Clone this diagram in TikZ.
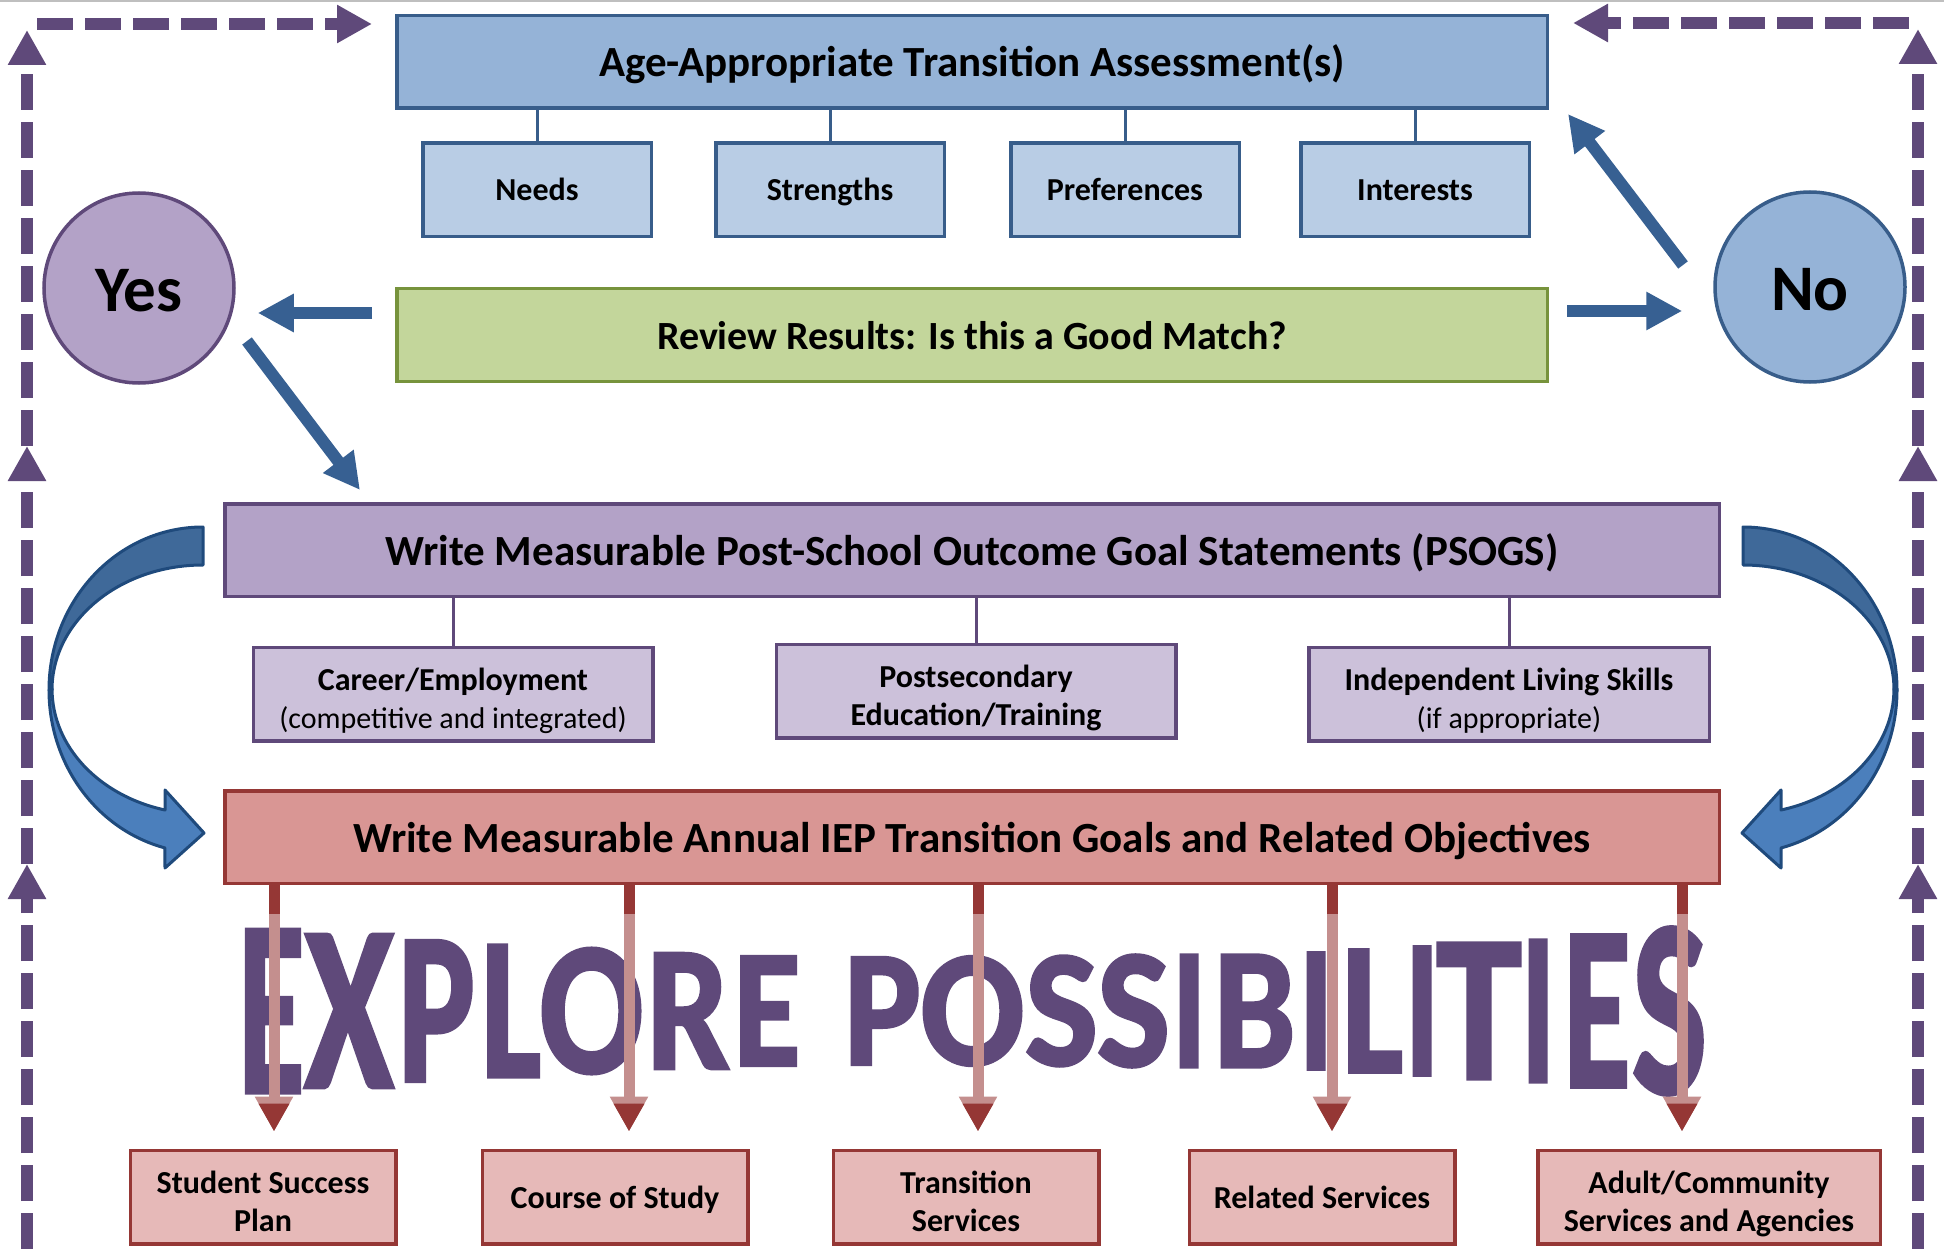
\documentclass[tikz,border=0pt]{standalone}
\usepackage{fontspec, graphicx}
\setmainfont{Carlito}
\newfontfamily\wordartfont{Carlito}[BoldFeatures={FakeBold=2}]
\usetikzlibrary{arrows.meta}

\definecolor{assessfill}{HTML}{95B3D7}
\definecolor{assesssubfill}{HTML}{B9CDE5}
\definecolor{assessdraw}{HTML}{385D8A}
\definecolor{reviewfill}{HTML}{C3D69B}
\definecolor{reviewdraw}{HTML}{77933C}
\definecolor{psogsfill}{HTML}{B3A2C7}
\definecolor{psogssubfill}{HTML}{CCC1DA}
\definecolor{psogsdraw}{HTML}{5F497A}
\definecolor{iepfill}{HTML}{D99694}
\definecolor{iepsubfill}{HTML}{E6B9B8}
\definecolor{iepdraw}{HTML}{953735}
\definecolor{ieppink}{HTML}{C48F8E}
\definecolor{arrowblue}{HTML}{376092}
\definecolor{bendbackfill}{HTML}{3F6999}
\definecolor{bendfrontfill}{HTML}{4B7FBC}
\definecolor{benddraw}{HTML}{1F4A7C}

\tikzset{
  box/.style={draw, line width=3.5pt, inner sep=0pt, align=center},
  mainbox/.style={box, minimum height=92.5pt, text height=41pt, text depth=11pt,
    font=\bfseries\fontsize{43}{50}\selectfont},
  subbox/.style={box, minimum height=93.5pt, text height=30pt, text depth=8pt,
    font=\bfseries\fontsize{32}{38}\selectfont},
  twoline/.style={text height=76pt},
  answer/.style={circle, draw, line width=3.5pt, minimum size=190pt, inner sep=0pt,
    text height=48pt, text depth=0pt, font=\bfseries\fontsize{65}{72}\selectfont},
  stem/.style={line width=3pt},
  blueline/.style={draw=arrowblue, line width=12pt, -{Triangle[length=36pt,width=36pt]}},
  loopline/.style={draw=psogsdraw, line width=12pt, dash pattern=on 36pt off 12pt,
    -{Triangle[length=35pt,width=36pt]}},
  downline/.style={draw=ieppink, line width=11pt, -{Triangle[length=35pt,width=36pt]}},
  downstub/.style={draw=iepdraw, line width=11pt},
  downhead/.style={draw=iepdraw, line width=11pt, -{Triangle[length=28pt,width=29pt]}},
  bigletter/.style={inner sep=0pt, text=psogsdraw, font=\wordartfont\bfseries\fontsize{100}{100}\selectfont},
  bendarrow/.pic={
    \filldraw[fill=bendbackfill, draw=benddraw, line width=3pt, line join=round]
      (0,-163) arc[start angle=90, end angle=180, x radius=154pt, y radius=163pt]
      -- (-151,0) arc[start angle=180, end angle=90, x radius=151pt, y radius=125pt] -- cycle;
    \filldraw[fill=bendfrontfill, draw=benddraw, line width=3pt, line join=round]
      (-154,0) arc[start angle=180, end angle=255.7, x radius=154pt, y radius=163pt]
      -- (-38,178) -- (1,143) -- (-38,100) -- (-38,120)
      arc[start angle=255.4, end angle=180, x radius=151pt, y radius=125pt] -- cycle;
  }
}

\begin{document}
\begin{tikzpicture}[x=1pt, y=-1pt]
  \useasboundingbox (0,0) rectangle (1944,1249);
  \draw[black!25, line width=2pt] (0,1) -- (1944,1);

  % assessment row
  \node[mainbox, fill=assessfill, draw=assessdraw, minimum width=1150.5pt] (assess) at (972,62)
    {Age-Appropriate Transition Assessment(s)};
  \foreach \nm/\cx/\txt in {needs/537/Needs, strengths/830/Strengths,
      prefs/1125/Preferences, interests/1415/Interests}{
    \node[subbox, fill=assesssubfill, draw=assessdraw, minimum width=228.5pt] (\nm) at (\cx,190) {\txt};
    \draw[stem, assessdraw] (assess.south -| \nm.north) -- (\nm.north);
  }

  \node[mainbox, fill=reviewfill, draw=reviewdraw, minimum width=1150.5pt, text height=38pt, text depth=10pt,
    font=\bfseries\fontsize{40}{48}\selectfont] (review) at (972,335)
    {Review Results: Is this a Good Match?};
  \node[answer, fill=psogsfill, draw=psogsdraw] (yes) at (139,288) {Yes};
  \node[answer, fill=assessfill, draw=assessdraw] (no) at (1810,287) {No};

  \draw[blueline, shorten <=23pt, shorten >=22pt] ([yshift=22pt]review.west) -- ([yshift=22pt]review.west -| yes.east);
  \draw[blueline, shorten <=18pt, shorten >=31pt] ([yshift=24pt]review.east) -- ([yshift=24pt]review.east -| no.west);
  \draw[blueline] ([shift={(-127pt,22pt)}]no.center) -- ([shift={(19pt,-4pt)}]assess.south east);

  % outcome goals
  \node[mainbox, fill=psogsfill, draw=psogsdraw, minimum width=1494.5pt] (psogs) at (972,550)
    {Write Measurable Post-School Outcome Goal Statements (PSOGS)};
  \draw[blueline] ([shift={(108pt,-53pt)}]yes.center) -- ([shift={(137pt,12pt)}]psogs.north west);
  \node[subbox, twoline, fill=psogssubfill, draw=psogsdraw, minimum width=399.5pt] (career) at (453,694)
    {Career/Employment\\{\mdseries\fontsize{30}{38}\selectfont (competitive and integrated)}};
  \node[subbox, twoline, fill=psogssubfill, draw=psogsdraw, minimum width=399.5pt] (postsec) at (976,691)
    {Postsecondary\\Education/Training};
  \node[subbox, twoline, fill=psogssubfill, draw=psogsdraw, minimum width=400.5pt] (living) at (1509,694)
    {Independent Living Skills\\{\mdseries\fontsize{30}{38}\selectfont (if appropriate)}};
  \foreach \nm in {career, postsec, living}
    \draw[stem, psogsdraw] (psogs.south -| \nm.north) -- (\nm.north);

  \node[mainbox, fill=iepfill, draw=iepdraw, minimum width=1494.5pt] (iep) at (972,837)
    {Write Measurable Annual IEP Transition Goals and Related Objectives};

  \path (203,690) pic {bendarrow};
  \path (1743,690) pic[xscale=-1] {bendarrow};

  % services row
  \node[subbox, twoline, fill=iepsubfill, draw=iepdraw, minimum width=265.5pt] (ssp) at (263,1197) {Student Success\\Plan};
  \node[subbox, fill=iepsubfill, draw=iepdraw, minimum width=265.5pt] (cos) at (615,1197) {Course of Study};
  \node[subbox, twoline, fill=iepsubfill, draw=iepdraw, minimum width=265.5pt] (trans) at (966,1197) {Transition\\Services};
  \node[subbox, fill=iepsubfill, draw=iepdraw, minimum width=265.5pt] (rel) at (1322,1197) {Related Services};
  \node[subbox, twoline, fill=iepsubfill, draw=iepdraw, minimum width=342.5pt] (adult) at (1709,1197)
    {Adult/Community\\Services and Agencies};

  % EXPLORE POSSIBILITIES, one letter at a time
  \foreach \cx/\lw/\lh/\lc [count=\k] in {271.5/66/162/E, 349/89/152/X, 436.5/77/140/P, 511/60/131/L,
      591.5/104/124/O, 688/83/115/R, 767/67/109/E, 882.5/77/107/P, 972.5/104/108/O,
      1061.5/73/109/S, 1133.5/73/111/S, 1189/34/112/I, 1254.5/82/112/B, 1316/34/116/I,
      1372.5/61/122/L, 1422/34/128/I, 1479/85/135/T, 1538/34/141/I, 1597/67/151/E, 1669.5/75/165/S}
    \node[bigletter] (letter\k) at (\cx,1011) {\resizebox{\lw pt}{\lh pt}{\lc}};

  \foreach \dx/\dest in {51/ssp, 406/cos, 755/trans, 1109/rel, 1459/adult}{
    \draw[downline] ([xshift=\dx pt]iep.south west) -- ([xshift=\dx pt, yshift=17pt]iep.south west |- \dest.north);
    \draw[downstub] ([xshift=\dx pt]iep.south west) -- ++(0,29);
    \draw[downhead] ([xshift=\dx pt, yshift=45pt]iep.south west |- \dest.north)
      -- ([xshift=\dx pt, yshift=17pt]iep.south west |- \dest.north);
  }

  % dashed loop round the sides
  \coordinate (l0) at (27,1249); \coordinate (l1) at (27,864); \coordinate (l2) at (27,446);
  \coordinate (l3) at (27,30); \coordinate (l4) at (37,24); \coordinate (l5) at (372,24);
  \coordinate (r0) at (1918,1249); \coordinate (r1) at (1918,864); \coordinate (r2) at (1918,446);
  \coordinate (r3) at (1918,29); \coordinate (r4) at (1909,23); \coordinate (r5) at (1573,23);
  \foreach \a/\b in {l0/l1, l1/l2, l2/l3, l4/l5, r0/r1, r1/r2, r2/r3, r4/r5}
    \draw[loopline] (\a) -- (\b);
\end{tikzpicture}
\end{document}
